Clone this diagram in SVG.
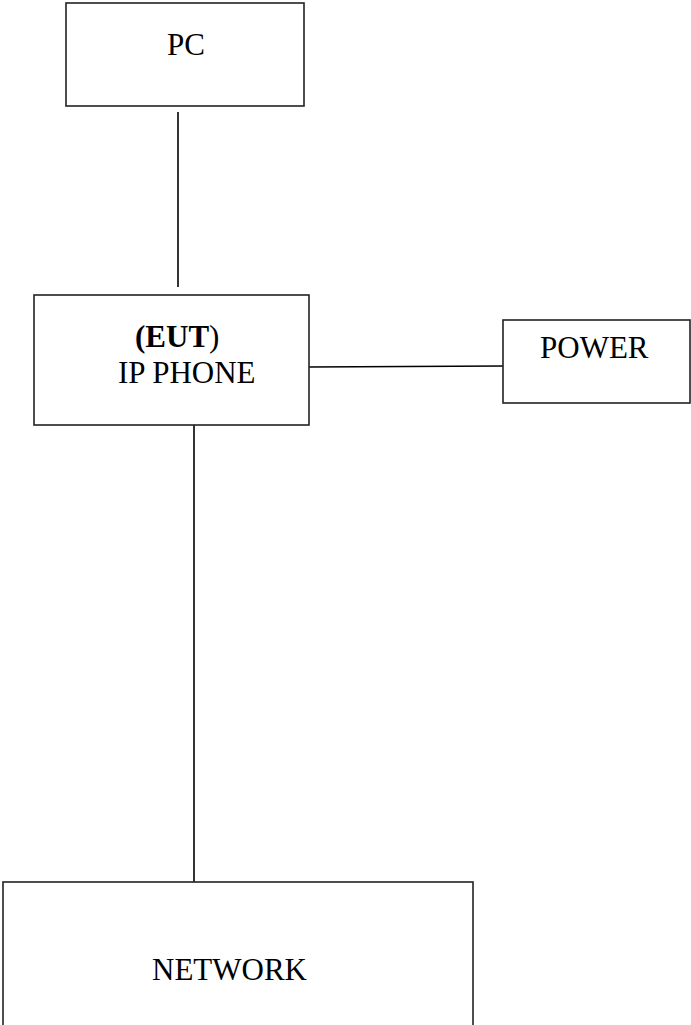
<svg xmlns="http://www.w3.org/2000/svg" width="691" height="1025" viewBox="0 0 691 1025">
<style>
.box{fill:#fff;stroke:#222;stroke-width:1.6}
.t{font-family:"Liberation Serif","Times New Roman",serif;font-size:31px;fill:#000}
.b{font-weight:bold}
.c{stroke:#000;stroke-width:1.6;fill:none}
</style>
<rect width="691" height="1025" fill="#fff"/>
<g id="connectors">
<line class="c" x1="178" y1="112" x2="178" y2="287"/>
<line class="c" x1="309" y1="367" x2="503" y2="366"/>
<line class="c" x1="194" y1="425" x2="194" y2="882"/>
</g>
<g id="pc">
<rect class="box" x="66" y="3" width="238" height="103"/>
<text class="t" x="167" y="55">PC</text>
</g>
<g id="ipphone">
<rect class="box" x="34" y="295" width="275" height="130"/>
<text class="t" x="135" y="347"><tspan class="b">(EUT</tspan>)</text>
<text class="t" x="118" y="383">IP PHONE</text>
</g>
<g id="power">
<rect class="box" x="503" y="320" width="187" height="83"/>
<text class="t" x="540" y="358">POWER</text>
</g>
<g id="network">
<rect class="box" x="3" y="882" width="470" height="145"/>
<text class="t" x="152" y="980">NETWORK</text>
</g>
</svg>
